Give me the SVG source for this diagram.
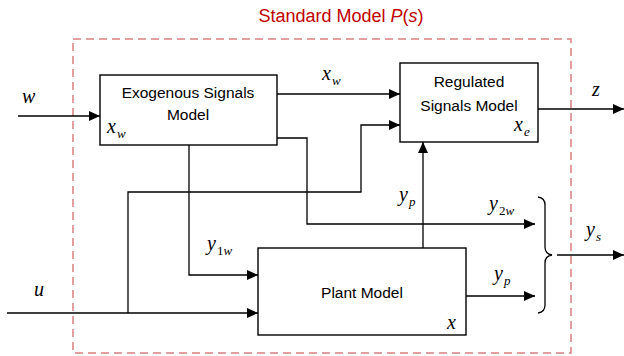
<svg xmlns="http://www.w3.org/2000/svg" width="624" height="356" viewBox="0 0 624 356">
<style>
.box{fill:#fff;stroke:#000;stroke-width:1.4}
.ln{fill:none;stroke:#000;stroke-width:1.3}
.lbl{font-family:"Liberation Sans",Arial,sans-serif;font-size:15.5px;fill:#000}
.m{font-family:"Liberation Serif","Times New Roman",serif;font-style:italic;font-size:20px;fill:#000}
.s{font-size:13px}
.up{font-style:normal}
</style>
<defs>
<marker id="ah" markerUnits="userSpaceOnUse" markerWidth="12" markerHeight="10" refX="11" refY="5" orient="auto">
<path d="M0,0 L11,5 L0,10 Z" fill="#000"/>
</marker>
</defs>
<rect width="624" height="356" fill="#fff"/>
<g id="frame">
<rect x="73" y="39" width="498" height="314" fill="none" stroke="#d98080" stroke-width="1.5" stroke-dasharray="8,5"/>
<text x="341" y="22" text-anchor="middle" font-family="Liberation Sans,Arial,sans-serif" font-size="18" fill="#c00000">Standard Model <tspan font-style="italic">P</tspan>(<tspan font-style="italic">s</tspan>)</text>
</g>
<g id="connectors">
<path class="ln" d="M18,116 H100" marker-end="url(#ah)"/>
<path class="ln" d="M277,94 H400" marker-end="url(#ah)"/>
<path class="ln" d="M277,138 H307 V224 H535" marker-end="url(#ah)"/>
<path class="ln" d="M189,145 V275 H258" marker-end="url(#ah)"/>
<path class="ln" d="M7,313 H258" marker-end="url(#ah)"/>
<path class="ln" d="M128,313 V192 H361 V125 H400" marker-end="url(#ah)"/>
<path class="ln" d="M423,248 V142" marker-end="url(#ah)"/>
<path class="ln" d="M466,296 H535" marker-end="url(#ah)"/>
<path class="ln" d="M538,109 H624" marker-end="url(#ah)"/>
<path class="ln" d="M557,255 H624" marker-end="url(#ah)"/>
<path class="ln" d="M538,197 Q545,198 545,205 V247 Q545,254 552,255 Q545,256 545,263 V305 Q545,312 538,313"/>
<text class="m" x="22" y="103">w</text>
<text class="m" x="322" y="80">x<tspan class="s" dx="1" dy="5">w</tspan></text>
<text class="m" x="592" y="96">z</text>
<text class="m" x="399" y="201">y<tspan class="s" dx="1" dy="5">p</tspan></text>
<text class="m" x="489" y="210">y<tspan class="s up" dx="1" dy="5">2</tspan><tspan class="s">w</tspan></text>
<text class="m" x="207" y="250">y<tspan class="s up" dx="1" dy="5">1</tspan><tspan class="s">w</tspan></text>
<text class="m" x="494" y="280">y<tspan class="s" dx="1" dy="5">p</tspan></text>
<text class="m" x="586" y="236">y<tspan class="s" dx="1" dy="5">s</tspan></text>
<text class="m" x="34" y="296">u</text>
</g>
<g id="exogenous">
<rect class="box" x="100" y="75" width="177" height="70"/>
<text class="lbl" x="188" y="98" text-anchor="middle">Exogenous Signals</text>
<text class="lbl" x="188" y="120" text-anchor="middle">Model</text>
<text class="m" x="107" y="133">x<tspan class="s" dx="1" dy="5">w</tspan></text>
</g>
<g id="regulated">
<rect class="box" x="400" y="63" width="138" height="79"/>
<text class="lbl" x="469" y="87" text-anchor="middle">Regulated</text>
<text class="lbl" x="469" y="111" text-anchor="middle">Signals Model</text>
<text class="m" x="514" y="131">x<tspan class="s" dx="1" dy="5">e</tspan></text>
</g>
<g id="plant">
<rect class="box" x="258" y="248" width="208" height="87"/>
<text class="lbl" x="362" y="298" text-anchor="middle">Plant Model</text>
<text class="m" x="447" y="329">x</text>
</g>
</svg>
